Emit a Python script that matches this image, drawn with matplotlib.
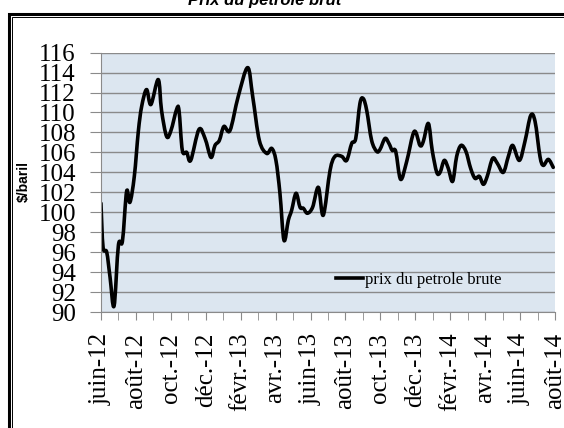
import matplotlib
matplotlib.use('Agg')
import matplotlib.pyplot as plt
from matplotlib.patches import Rectangle, PathPatch
from matplotlib.path import Path
from matplotlib.ticker import MultipleLocator

# mois depuis juin-12 (position sur l'axe) et prix en $/baril
mois = [0.00, 0.12, 0.33, 0.52, 0.75, 1.00, 1.23, 1.47, 1.66, 1.91,
        2.14, 2.33, 2.61, 2.86, 3.28, 3.47, 3.76, 4.01, 4.33, 4.47,
        4.66, 4.91, 5.14, 5.61, 5.96, 6.30, 6.53, 6.78, 7.04, 7.39,
        7.86, 8.40, 8.69, 9.07, 9.49, 9.78, 10.02, 10.25, 10.48, 10.73,
        10.92, 11.17, 11.40, 11.59, 11.82, 12.12, 12.45, 12.73, 13.12, 13.40,
        13.79, 14.07, 14.36, 14.59, 14.83, 15.02, 15.22, 15.50, 15.79, 15.98,
        16.27, 16.49, 16.68, 16.88, 17.16, 17.51, 17.94, 18.27, 18.46, 18.75,
        18.97, 19.23, 19.42, 19.66, 19.89, 20.14, 20.37, 20.62, 20.90, 21.17,
        21.42, 21.67, 21.90, 22.12, 22.43, 22.70, 23.04, 23.33, 23.58, 23.96,
        24.28, 24.61, 24.86, 25.14, 25.33, 25.62, 25.90]
prix = [100.9, 96.5, 96.0, 93.5, 90.6, 96.7, 97.1, 102.1, 101.0, 103.6,
        108.1, 110.6, 112.3, 110.8, 113.3, 110.2, 107.6, 108.2, 110.3, 110.2,
        106.2, 106.0, 105.2, 108.3, 107.4, 105.5, 106.7, 107.2, 108.6, 108.2,
        111.6, 114.5, 111.6, 107.2, 105.9, 106.4, 105.2, 101.9, 97.2, 99.2,
        100.2, 101.9, 100.5, 100.4, 99.9, 100.5, 102.5, 99.7, 104.2, 105.6,
        105.6, 105.2, 106.9, 107.4, 110.9, 111.4, 110.2, 107.2, 106.1, 106.3,
        107.4, 106.9, 106.2, 106.1, 103.3, 105.1, 108.1, 106.7, 107.1, 108.9,
        106.2, 104.0, 104.0, 105.2, 104.4, 103.1, 105.6, 106.7, 106.1, 104.4,
        103.4, 103.6, 102.8, 103.6, 105.4, 104.9, 104.0, 105.6, 106.7, 105.2,
        107.1, 109.7, 109.1, 105.6, 104.7, 105.3, 104.5]

etiquettes = ['juin-12', 'août-12', 'oct.-12', 'déc.-12', 'févr.-13', 'avr.-13',
              'juin-13', 'août-13', 'oct.-13', 'déc.-13', 'févr.-14', 'avr.-14',
              'juin-14', 'août-14']

titre = 'Prix du petrole brut'
serie = 'prix du petrole brute'


def courbe_lissee(xs, ys):
    # ligne lissée façon Excel : bezier cubique passant par chaque point
    n = len(xs)
    verts = [(xs[0], ys[0])]
    codes = [Path.MOVETO]
    for i in range(n - 1):
        i0 = max(i - 1, 0)
        i3 = min(i + 2, n - 1)
        c1 = (xs[i] + (xs[i + 1] - xs[i0]) / 6, ys[i] + (ys[i + 1] - ys[i0]) / 6)
        c2 = (xs[i + 1] - (xs[i3] - xs[i]) / 6, ys[i + 1] - (ys[i3] - ys[i]) / 6)
        verts += [c1, c2, (xs[i + 1], ys[i + 1])]
        codes += [Path.CURVE4] * 3
    return Path(verts, codes)


def main():
    fig = plt.figure(figsize=(5.64, 4.28), dpi=100)

    # cadre double autour du graphique (coupé à droite et en bas)
    fig.patches.append(Rectangle((0.016, -0.1), 1.1, 1.1 - 0.033, transform=fig.transFigure,
                                 fill=False, edgecolor='black', lw=2.2))
    fig.patches.append(Rectangle((0.021, -0.1), 1.1, 1.1 - 0.040, transform=fig.transFigure,
                                 fill=False, edgecolor='black', lw=0.7))

    fig.text(0.47, 0.989, titre, ha='center', va='baseline', fontsize=12,
             fontweight='bold', fontstyle='italic', family='Liberation Sans')

    ax = fig.add_axes([0.179, 0.271, 0.805, 0.606])
    ax.set_facecolor('#dce6f0')
    ax.add_patch(PathPatch(courbe_lissee(mois, prix), facecolor='none', edgecolor='black',
                           lw=2.6, joinstyle='round', capstyle='round'))
    # ligne invisible pour la légende
    ax.plot(mois[:1], prix[:1], color='black', lw=2.6, label=serie, alpha=0)

    ax.set_xlim(0, 26)
    ax.set_ylim(90, 116)
    ax.yaxis.set_major_locator(MultipleLocator(2))
    ax.grid(axis='y', color='#8a8a8a', lw=1.0)
    ax.set_axisbelow(True)

    ax.set_xticks(range(0, 27, 2))
    ax.set_xticklabels(etiquettes, rotation=90)
    ax.xaxis.set_minor_locator(MultipleLocator(1))

    for s in ['top', 'right']:
        ax.spines[s].set_visible(False)
    for s in ['left', 'bottom']:
        ax.spines[s].set_color('#8a8a8a')

    ax.tick_params(axis='y', which='both', length=8, color='#8a8a8a', pad=10,
                   labelsize=18)
    ax.tick_params(axis='x', which='both', length=6, color='#8a8a8a', pad=9,
                   labelsize=18)
    for lab in ax.get_xticklabels() + ax.get_yticklabels():
        lab.set_family('Liberation Serif')

    fig.text(0.043, 1 - 182 / 428, '$/baril', rotation=90, ha='center', va='center',
             fontsize=10, fontweight='bold', family='Liberation Sans')

    leg = ax.legend(loc='lower left', bbox_to_anchor=(0.5, 0.06), frameon=False,
                    prop={'family': 'Liberation Serif', 'size': 12},
                    handlelength=1.6, handletextpad=0.1, borderpad=0)
    for h in leg.get_lines():
        h.set_alpha(1)

    plt.savefig('out.png', dpi=100)


if __name__ == '__main__':
    main()
